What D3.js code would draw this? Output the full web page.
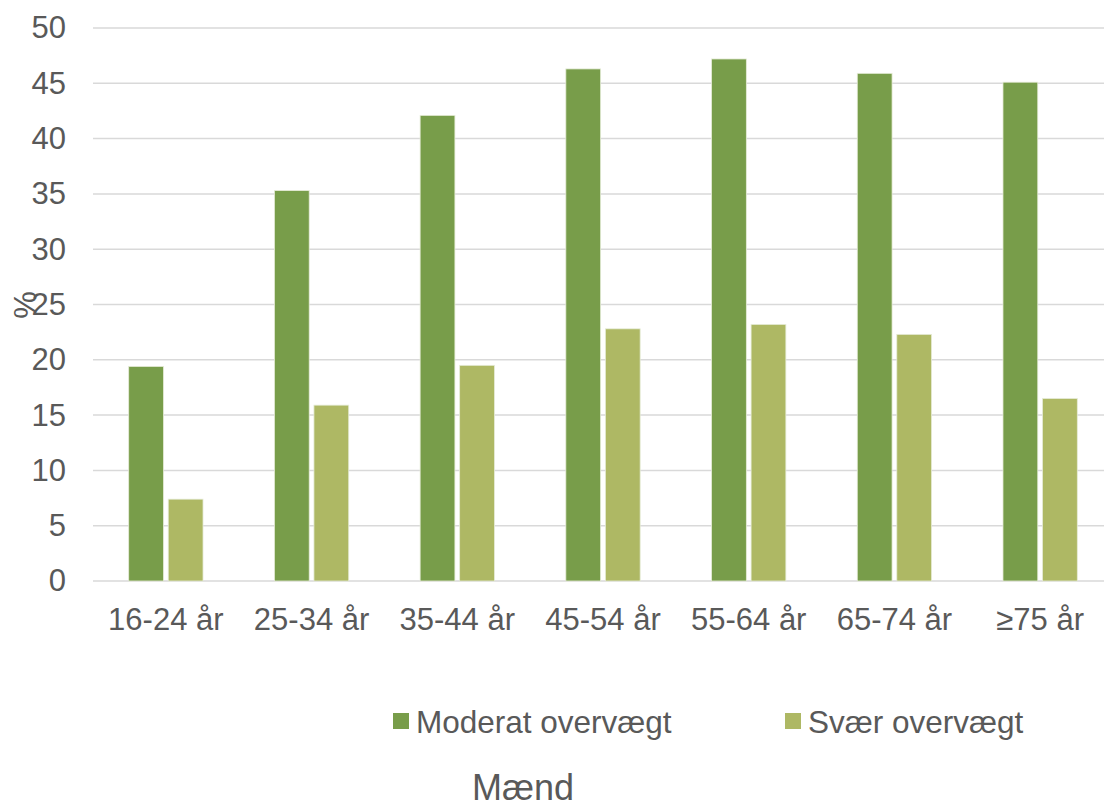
<!DOCTYPE html>
<html><head><meta charset="utf-8">
<script src="https://cdn.jsdelivr.net/npm/d3@7"></script>
<style>body{margin:0;background:#fff}svg{display:block}text{font-family:"Liberation Sans",Arial,sans-serif;fill:#595959}</style>
</head><body><svg id="c" width="1104" height="808"></svg>
<script>
const categories = ["16-24 år","25-34 år","35-44 år","45-54 år","55-64 år","65-74 år","≥75 år"];
const seriesNames = ["Moderat overvægt","Svær overvægt"];
const moderat = [19.4,35.3,42.1,46.3,47.2,45.9,45.1];
const svaer = [7.4,15.9,19.5,22.8,23.2,22.3,16.5];
const yTicks = [0,5,10,15,20,25,30,35,40,45,50];
const colors = ["#789d4a","#aeb864"];

(function(){
const svg = d3.select("#c");
const pLeft = 93, pRight = 1113, pTop = 28, pBottom = 581;
const x = d3.scaleBand().domain(categories).range([pLeft,pRight]).paddingInner(0.49).paddingOuter(0.245);
const xs = d3.scaleBand().domain(seriesNames).range([0,x.bandwidth()]).paddingInner(0.12);
const y = d3.scaleLinear().domain([0,50]).range([pBottom,pTop]);

// gridlines
svg.append("g").selectAll("line").data(yTicks).join("line")
  .attr("x1",pLeft).attr("x2",pRight).attr("y1",d=>y(d)).attr("y2",d=>y(d))
  .attr("stroke","#d9d9d9").attr("stroke-width",1.5);

// y axis labels
const ya = svg.append("g").attr("transform",`translate(${pLeft},0)`)
  .call(d3.axisLeft(y).tickValues(yTicks).tickSize(0).tickPadding(27));
ya.select(".domain").remove();
ya.selectAll("text").style("font-size","31px").attr("fill","#595959").style("font-family","Liberation Sans, Arial, sans-serif");

// x axis labels
const xa = svg.append("g").attr("transform",`translate(0,${pBottom})`)
  .call(d3.axisBottom(x).tickSize(0).tickPadding(27));
xa.select(".domain").remove();
xa.selectAll("text").style("font-size","31px").attr("fill","#595959").style("font-family","Liberation Sans, Arial, sans-serif");

// bars
const data = categories.map((c,i)=>({c, vals:[moderat[i],svaer[i]]}));
const g = svg.append("g").selectAll("g").data(data).join("g").attr("transform",d=>`translate(${x(d.c)},0)`);
g.selectAll("rect").data(d=>d.vals.map((v,j)=>({v,s:seriesNames[j],j}))).join("rect")
  .attr("x",d=>xs(d.s)).attr("width",xs.bandwidth())
  .attr("y",d=>y(d.v)).attr("height",d=>y(0)-y(d.v))
  .attr("fill",d=>colors[d.j]).attr("stroke","#e6ecd8").attr("stroke-width",0.8);

// y label
svg.append("text").attr("transform","translate(36,305) rotate(-90)").attr("text-anchor","middle")
  .style("font-size","31px").text("%");

// legend
const legX = [393,785];
seriesNames.forEach((s,i)=>{
  svg.append("rect").attr("x",legX[i]).attr("y",713).attr("width",16).attr("height",16).attr("fill",colors[i]);
  svg.append("text").attr("x",legX[i]+23).attr("y",733).style("font-size","31.5px").text(s);
});

// title
svg.append("text").attr("x",523).attr("y",800).attr("text-anchor","middle").style("font-size","36px").text("Mænd");
})();
</script></body></html>
